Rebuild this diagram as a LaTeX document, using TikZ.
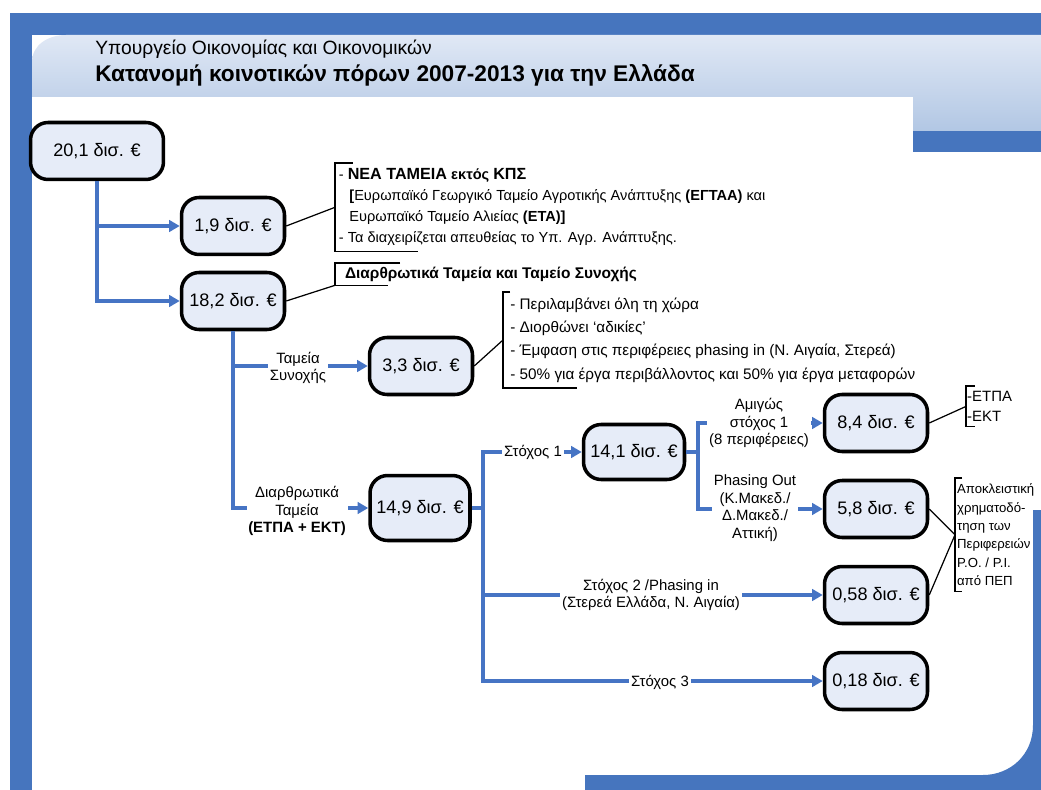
\documentclass[tikz,border=0pt]{standalone}
\usepackage{fontspec}
\setmainfont{Liberation Sans}
\usepackage{tikz}
\usepackage{xcolor}
\usetikzlibrary{shapes.geometric, positioning, arrows.meta}
\definecolor{frameblue}{RGB}{70,117,190}
\definecolor{headtop}{RGB}{224,232,245}
\definecolor{headbot}{RGB}{178,199,228}
\definecolor{amountfill}{RGB}{230,236,248}
\definecolor{linkblue}{RGB}{70,116,196}
\tikzset{amount/.style={draw=black,line width=2pt,fill=amountfill,rounded corners=10pt,minimum width=2.06cm,minimum height=1.14cm,inner sep=1pt,font=\fontsize{10.3}{12}\selectfont}}
\tikzset{link/.style={draw=linkblue,line width=2pt,-{Triangle[length=6pt,width=6.5pt]}}}
\tikzset{tag/.style={fill=white,inner sep=1pt,align=center,font=\fontsize{8.5}{10}\selectfont}}
\tikzset{note/.style={draw=black,line width=0.7pt}}
\tikzset{notetext/.style={anchor=north west,inner xsep=2pt,inner ysep=3pt,align=left,font=\fontsize{8.3}{12}\selectfont}}

\begin{document}
\begin{tikzpicture}[x=0.02cm,y=-0.02cm]
  \useasboundingbox (0,0) rectangle (1041,790);
  \clip (0,0) rectangle (1041,790);
  % frame of the slide
  \fill[frameblue] (10,13) rectangle (1041,35);
  \fill[frameblue] (10,13) rectangle (32,790);
  \shade[top color=headtop,bottom color=headbot] (32,97) -- (32,62) .. controls (32,45) and (48,35) .. (66,35) -- (1041,35) -- (1041,131) -- (913,131) -- (913,97) -- cycle;
  \fill[frameblue] (913,131) rectangle (1041,152);
  \node[anchor=west,inner sep=0pt,font=\fontsize{10.95}{12}\selectfont] (ministry) at (95,49) {Υπουργείο Οικονομίας και Οικονομικών};
  \node[anchor=west,inner sep=0pt,font=\fontsize{12.9}{15}\selectfont\bfseries] (title) at (95,75) {Κατανομή κοινοτικών πόρων 2007-2013 για την Ελλάδα};

  % amounts
  \node[amount,minimum width=2.66cm] (total) at (97,151) {20,1 δισ. €};
  \node[amount] (newfunds) at (233,226) {1,9 δισ. €};
  \node[amount] (struct) at (233,301) {18,2 δισ. €};
  \node[amount] (cohesion) at (421,366) {3,3 δισ. €};
  \node[amount,minimum width=2.0cm,minimum height=1.3cm] (sf) at (420,508) {14,9 δισ. €};
  \node[amount,minimum width=2.02cm,minimum height=1.1cm] (obj1) at (634,452) {14,1 δισ. €};
  \node[amount] (pure) at (876,423) {8,4 δισ. €};
  \node[amount] (phout) at (876,509) {5,8 δισ. €};
  \node[amount] (phin) at (876,595) {0,58 δισ. €};
  \node[amount] (obj3) at (876,681) {0,18 δισ. €};

  \coordinate (sfsplit) at (483,508);
  \coordinate (obj1split) at (698,452);
  \draw[link] (total.south) |- (newfunds.west);
  \draw[link] (total.south) |- (struct.west);
  \draw[link] (struct.south) |- (cohesion.west);
  \draw[link] (struct.south) |- (sf.west);
  \draw[link] (sf.east) -- (sfsplit) |- (obj1.west);
  \draw[link] (sfsplit) |- (phin.west);
  \draw[link] (sfsplit) |- (obj3.west);
  \draw[link] (obj1.east) -- (obj1split) |- (pure.west);
  \draw[link] (obj1split) |- (phout.west);

  \node[tag] (tcoh) at (298,368) {Ταμεία\\Συνοχής};
  \node[tag] (tsf) at (297,511) {Διαρθρωτικά\\Ταμεία\\\textbf{(ΕΤΠΑ + ΕΚΤ)}};
  \node[tag] (tobj1) at (533,452) {Στόχος 1};
  \node[tag] (tobj2) at (651,595) {Στόχος 2 /Phasing in\\(Στερεά Ελλάδα, Ν. Αιγαία)};
  \node[tag] (tobj3) at (660,682) {Στόχος 3};
  \node[tag] (tpure) at (759,423) {Αμιγώς\\στόχος 1\\(8 περιφέρειες)};
  \node[tag] (tphout) at (755,508) {Phasing Out\\(Κ.Μακεδ./\\Δ.Μακεδ./\\Αττική)};

  % notes
  \node[notetext] (fundsnote) at (335,163) {- \textbf{{\fontsize{9.2}{12}\selectfont ΝΕΑ ΤΑΜΕΙΑ} εκτός {\fontsize{9.2}{12}\selectfont ΚΠΣ}}\\
    \hspace*{6pt}\textbf{[}Ευρωπαϊκό Γεωργικό Ταμείο Αγροτικής Ανάπτυξης \textbf{(ΕΓΤΑΑ)} και\\
    \hspace*{6pt}Ευρωπαϊκό Ταμείο Αλιείας \textbf{(ΕΤΑ)]}\\
    - Τα διαχειρίζεται απευθείας το Υπ. Αγρ. Ανάπτυξης.};
  \draw[note] ([xshift=10pt]fundsnote.north west) -- (fundsnote.north west) -- (fundsnote.south west) -- ([xshift=47pt]fundsnote.south west);
  \draw[note] (newfunds.east) -- (fundsnote.west);

  \node[notetext,inner xsep=5.5pt,inner ysep=2pt,font=\fontsize{8.8}{11}\selectfont] (structnote) at (335,263) {\textbf{Διαρθρωτικά Ταμεία και Ταμείο Συνοχής}};
  \draw[note] ([xshift=37pt]structnote.north west) -- (structnote.north west) -- (structnote.south west) -- ([xshift=30pt]structnote.south west);
  \draw[note] (struct.east) -- (structnote.south west);

  \node[notetext,inner xsep=4pt,font=\fontsize{8.7}{13.3}\selectfont] (cohnote) at (503,292) {- Περιλαμβάνει όλη τη χώρα\\
    - Διορθώνει ‘αδικίες’\\
    - Έμφαση στις περιφέρειες phasing in (Ν. Αιγαία, Στερεά)\\
    - 50\% για έργα περιβάλλοντος και 50\% για έργα μεταφορών};
  \draw[note] ([xshift=4pt]cohnote.north west) -- (cohnote.north west) -- (cohnote.south west) -- ([xshift=42pt]cohnote.south west);
  \draw[note] (cohesion.east) -- (cohnote.west);

  \node[notetext,inner xsep=0.5pt,font=\fontsize{8.5}{11}\selectfont] (fundsplit) at (966,386) {-ΕΤΠΑ\\-ΕΚΤ};
  \draw[note] ([xshift=5pt]fundsplit.north west) -- (fundsplit.north west) -- (fundsplit.south west) -- ([xshift=5pt]fundsplit.south west);
  \draw[note] (pure.east) -- (fundsplit.west);

  \node[notetext,inner xsep=1pt,font=\fontsize{7.5}{10.5}\selectfont] (exclnote) at (955,478) {Αποκλειστική\\χρηματοδό-\\τηση των\\Περιφερειών\\P.O. / P.I.\\από ΠΕΠ};
  \draw[note] ([xshift=4pt]exclnote.north west) -- (exclnote.north west) -- (exclnote.south west) -- ([xshift=4pt]exclnote.south west);
  \draw[note] (phout.east) -- (exclnote.west);
  \draw[note] (phin.east) -- (exclnote.west);

  % lower right corner of the frame
  \fill[frameblue] (1033,510) -- (1033,725) .. controls (1033,755) and (1010,775) .. (983,775) -- (585,775) -- (585,790) -- (1041,790) -- (1041,510) -- cycle;
\end{tikzpicture}
\end{document}
